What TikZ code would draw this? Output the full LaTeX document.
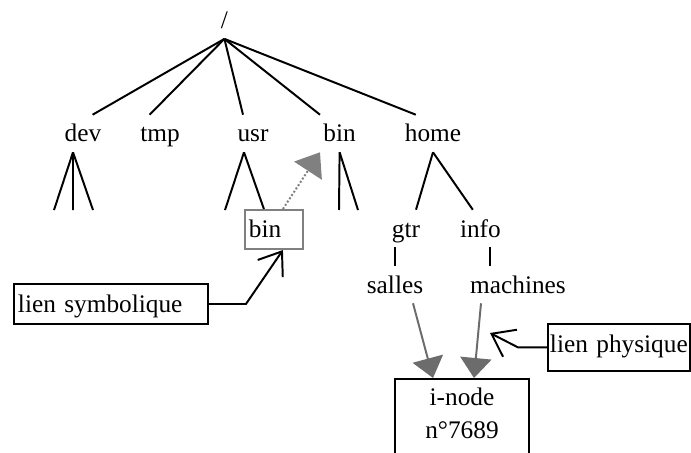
\documentclass[tikz,border=0pt]{standalone}
\usepackage{fontspec}
\setmainfont{Liberation Serif}
\usepackage{tikz}
\usetikzlibrary{arrows.meta}
\definecolor{linkgray}{RGB}{108,108,108}
\definecolor{boxgray}{RGB}{128,128,128}

\begin{document}
\begin{tikzpicture}[
    font=\fontsize{18}{22.8}\selectfont,
    dirname/.style={inner sep=0pt, text height=0.675cm, text depth=0.25cm, anchor=base},
    branch/.style={draw=black, line width=1.4pt},
    linkbox/.style={rectangle, draw=boxgray, line width=1.3pt, anchor=north west, text width=1.25cm, align=left, inner xsep=0.1cm, inner ysep=0.25cm, text height=0.45cm, text depth=0.03cm},
    labelbox/.style={rectangle, draw=black, line width=1.4pt, anchor=north west, align=left, inner xsep=0.1cm, inner ysep=0.25cm, text height=0.47cm},
    inodebox/.style={rectangle, draw=black, line width=1.4pt, anchor=north, text width=3.15cm, align=center, inner xsep=0.1cm, inner ysep=0.2cm, text height=0.475cm, text depth=1.6cm},
    hardlink/.style={draw=linkgray, line width=1.4pt, -{Triangle[length=0.5cm,width=0.78cm]}},
    softlink/.style={draw=boxgray, line width=1.4pt, dash pattern=on 1.4pt off 1.4pt, -{Triangle[length=0.55cm,width=0.82cm]}},
    labelarrow/.style={draw=black, line width=1.4pt, -{Straight Barb[length=0.52cm,width=0.76cm]}}
]
\useasboundingbox (0,0) rectangle (17.275,-11.325);

% Root directory
\node[dirname] (root) at (5.61,-0.715) {/};

% First level
\node[dirname] (dev)  at (2.075,-3.55) {dev};
\node[dirname] (tmp)  at (4.0,-3.55)   {tmp};
\node[dirname] (usr)  at (6.325,-3.55) {usr};
\node[dirname] (bin)  at (8.49,-3.55)  {bin};
\node[dirname] (home) at (10.825,-3.55) {home};

\draw[branch] (root.south) -- ([xshift=0.24cm]dev.north);
\draw[branch] (root.south) -- ([xshift=-0.26cm]tmp.north);
\draw[branch] (root.south) -- ([xshift=-0.25cm]usr.north);
\draw[branch] (root.south) -- ([xshift=-0.49cm]bin.north);
\draw[branch] (root.south) -- ([xshift=-0.43cm]home.north);

% Loose ends below dev, usr and bin
\coordinate (dev1) at (1.35,-5.25);
\coordinate (dev2) at (1.825,-5.25);
\coordinate (dev3) at (2.325,-5.25);
\coordinate (usr1) at (5.625,-5.25);
\coordinate (bin1) at (8.475,-5.25);
\coordinate (bin2) at (8.95,-5.25);

\foreach \leaf in {dev1,dev2,dev3}
    \draw[branch] ([xshift=-0.25cm]dev.south) -- (\leaf);
\draw[branch] ([xshift=-0.225cm]usr.south) -- (usr1);
\foreach \leaf in {bin1,bin2}
    \draw[branch] (bin.south) -- (\leaf);

% Symbolic link usr/bin
\node[linkbox] (ubin) at (6.1,-5.225) {bin};
\draw[branch] ([xshift=-0.225cm]usr.south) -- ([xshift=-0.25cm]ubin.north);
\draw[softlink] ([xshift=0.225cm]ubin.north) -- ([xshift=-0.49cm]bin.south);

% Home directory
\node[dirname] (gtr)      at (10.15,-5.925) {gtr};
\node[dirname] (info)     at (12.01,-5.925) {info};
\node[dirname] (salles)   at (9.875,-7.325) {salles};
\node[dirname] (machines) at (12.95,-7.325) {machines};

\draw[branch] (home.south) -- ([xshift=0.25cm]gtr.north);
\draw[branch] (home.south) -- ([xshift=-0.19cm]info.north);
\draw[branch] (salles.north |- gtr.south) -- (salles.north);
\draw[branch] ([xshift=0.24cm]info.south) -- ([xshift=0.24cm]info.south |- machines.north);

% Hard links to the same i-node
\node[inodebox] (inode) at (11.55,-9.45) {i-node\\n°7689};
\draw[hardlink] ([xshift=0.45cm]salles.south) -- ([xshift=-0.725cm]inode.north);
\draw[hardlink] ([xshift=-0.925cm]machines.south) -- ([xshift=0.3cm]inode.north);

% Labels
\node[labelbox, text width=4.65cm, text depth=0.03cm] (symlabel) at (0.325,-7.075) {lien symbolique};
\node[labelbox, text width=3.45cm, inner xsep=0.05cm, text depth=0.2cm] (physlabel) at (13.675,-8.075) {lien physique};
\coordinate (physpt) at (12.25,-8.325);

\draw[labelarrow] (symlabel.east) -- ++(0.925,0) -- ([xshift=0.225cm]ubin.south);
\draw[labelarrow] (physlabel.west) -- ++(-0.725,0) -- (physpt);

\end{tikzpicture}
\end{document}
